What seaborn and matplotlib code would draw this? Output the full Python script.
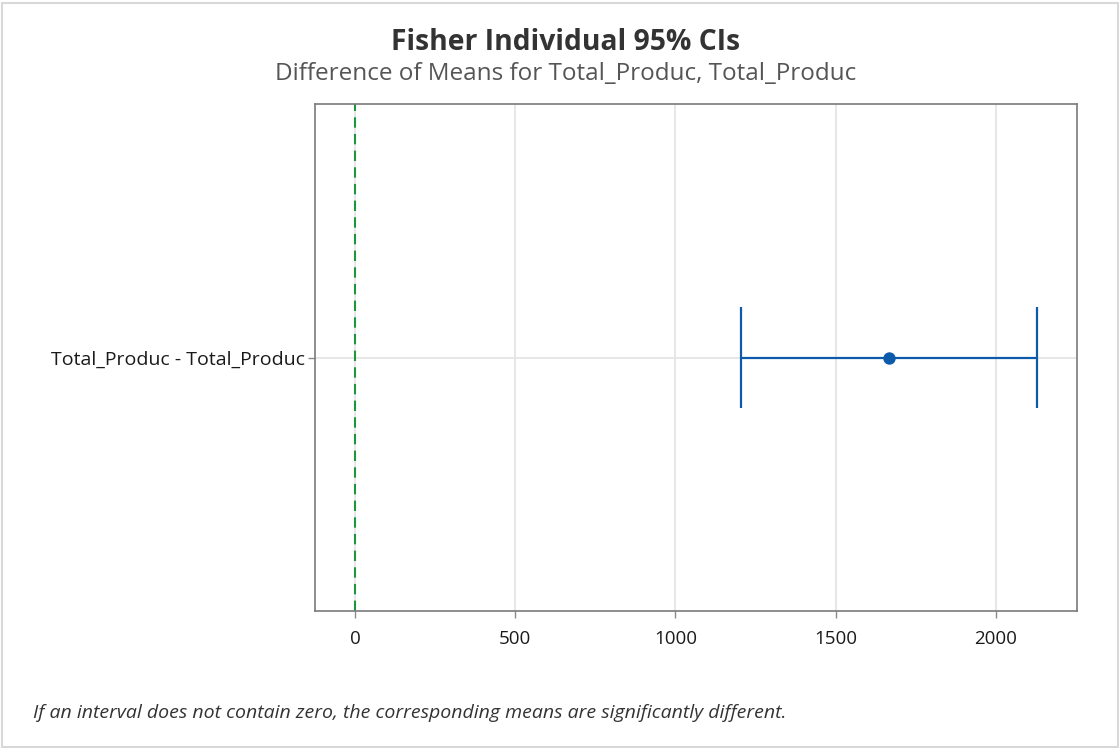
import matplotlib
matplotlib.use("Agg")
import matplotlib.pyplot as plt
import seaborn as sns
import pandas as pd
from matplotlib.patches import Rectangle

# Data
labels = ["Total_Produc - Total_Produc"]
means = [1666]
lower = [1204]
upper = [2128]
xticks = [0, 500, 1000, 1500, 2000]

title = "Fisher Individual 95% CIs"
subtitle = "Difference of Means for Total_Produc, Total_Produc"
footnote = "If an interval does not contain zero, the corresponding means are significantly different."

df = pd.DataFrame({"label": labels, "mean": means, "lower": lower, "upper": upper})

sns.set_theme(style="white")
plt.rcParams["font.family"] = ["Open Sans", "DejaVu Sans"]

fig = plt.figure(figsize=(11.2, 7.48), dpi=100)
ax = fig.add_axes([315/1120, 1-611/748, (1077-315)/1120, (611-104)/748])

blue = "#0B5BAA"
green = "#1E9640"

# interval lines
for i, row in df.iterrows():
    ax.hlines(i, row["lower"], row["upper"], color=blue, lw=1.6, zorder=3)
    ax.vlines([row["lower"], row["upper"]], i - 0.2, i + 0.2, color=blue, lw=1.6, zorder=3)

sns.scatterplot(data=df, x="mean", y=list(range(len(df))), ax=ax, color=blue,
                s=80, edgecolor=blue, linewidth=0, zorder=4, legend=False)

ax.axvline(0, color=green, ls=(0, (5, 3)), lw=1.5, zorder=2)

ax.set_xlim(-125, 2253)
ax.set_ylim(1, -1)
ax.set_xticks(xticks)
ax.set_xticklabels([str(t) for t in xticks], fontsize=13.5, color="#1a1a1a")
ax.set_yticks(range(len(labels)))
ax.set_yticklabels(labels, fontsize=14, color="#1a1a1a")
ax.set_xlabel("")
ax.set_ylabel("")

ax.grid(True, color="#e3e3e3", lw=1.2, zorder=0)
ax.set_axisbelow(True)
for s in ax.spines.values():
    s.set_color("#7a7a7a")
    s.set_linewidth(1.2)
ax.tick_params(axis="x", bottom=True, length=5, width=1, color="#8a8a8a", pad=9)
ax.tick_params(axis="y", left=True, length=5, width=1, color="#8a8a8a", pad=2)

fig.text(566/1120, 1-42/748, title, ha="center", va="center", fontsize=20.3,
         fontweight="bold", color="#333333")
fig.text(566/1120, 1-74/748, subtitle, ha="center", va="center", fontsize=17.5,
         color="#555555")
fig.text(33/1120, 1-713/748, footnote, ha="left", va="center", fontsize=14,
         style="italic", color="#333333")

fig.patches.append(Rectangle((0.002, 0.002), 0.996, 0.994, transform=fig.transFigure,
                             fill=False, edgecolor="#d8d8d8", lw=1.5))

fig.savefig("out.png", dpi=100, facecolor="white")
